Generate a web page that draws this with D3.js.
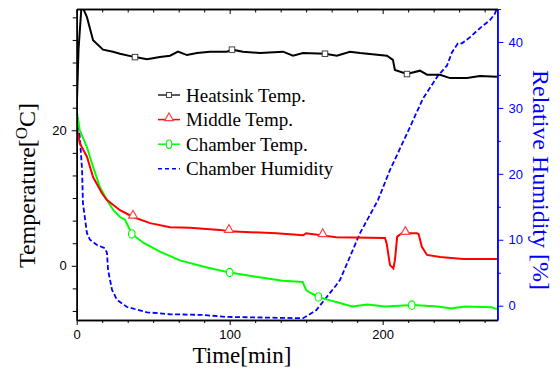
<!DOCTYPE html>
<html><head><meta charset="utf-8">
<script src="https://cdn.jsdelivr.net/npm/d3@7"></script>
<style>body{margin:0;background:#fff}svg{display:block}</style>
</head><body><svg id="c" width="560" height="369"></svg>
<script>
// ---- data ----
const heatsinkTime = [0, 1.2, 3.2, 6.7, 10.7, 17.2, 23.7, 28.3, 38.1, 46, 54.4, 61, 66.2, 72.1, 78.6, 87.1, 98.2, 101.5, 108.7, 119.8, 134.9, 141.4, 147.9, 162.3, 170.1, 178.6, 185.2, 202.8, 206.7, 208, 215.9, 224.4, 229, 237.5, 244, 255.1, 263.6, 274.7];
const heatsinkTemp = [23, 32, 38.5, 36.7, 33.3, 31.9, 31.6, 31.3, 30.8, 30.5, 30.8, 31.0, 31.6, 31.1, 31.4, 31.6, 31.6, 31.9, 31.6, 31.4, 31.6, 31.0, 31.4, 31.3, 31.0, 31.6, 31.4, 31.0, 30.4, 28.9, 28.3, 28.8, 28.2, 28.2, 27.7, 27.7, 28.0, 27.9];

const middleTime = [0, 2, 6.7, 10.7, 16.5, 19.8, 28.3, 36.8, 48, 61, 74, 93.7, 99.5, 130.5, 148, 150, 169.6, 201.5, 202.6, 204.8, 207, 208, 209.5, 212.6, 222.4, 223.5, 225.6, 229, 237.5, 252.6, 274.7];
const middleTemp = [20.5, 18.1, 16.1, 13.1, 10.7, 9.7, 8.2, 7.2, 6.3, 5.7, 5.6, 5.3, 5.1, 4.8, 4.5, 4.8, 4.2, 4.1, 3.3, 0.1, -0.4, 0.8, 4.3, 4.8, 4.8, 4.7, 2.8, 1.6, 1.3, 1.0, 1.0];

const chamberTime = [0, 2, 6.7, 10.7, 15.2, 19.8, 24, 28.3, 31.6, 36, 43.5, 54.4, 67.5, 82.6, 93.7, 100.2, 119.4, 134.6, 147.7, 150, 152, 158, 165.6, 172, 180, 190, 201.5, 220, 236, 245, 253.6, 271, 274.7];
const chamberTemp = [22.8, 20.0, 17.5, 14.6, 11.6, 9.7, 8.2, 7.2, 6.8, 4.7, 3.4, 2.1, 0.8, -0.1, -0.7, -1.0, -1.7, -2.2, -2.4, -3.6, -3.9, -4.6, -5.1, -5.5, -6.0, -5.7, -6.0, -5.8, -6.0, -6.3, -6.0, -6.1, -6.4];

const humidityTime = [0, 1, 2.2, 3.5, 4.1, 6.7, 8.7, 13.3, 18.5, 19.8, 20.5, 23.1, 26.3, 32.9, 46, 61, 82.5, 97.6, 148, 156.5, 169.6, 172.1, 185.2, 196.9, 204.8, 215.9, 226.3, 236.2, 242, 245.3, 249.2, 251.8, 257, 263.6, 270.1, 273.4, 275];
const humidityRH = [29.6, 28, 25.1, 20.6, 15.5, 11.0, 10.0, 9.2, 8.7, 8.0, 5.4, 2.4, 0.9, -0.2, -1.0, -1.3, -1.4, -1.7, -1.9, -0.7, 3.1, 3.9, 11.0, 16.0, 20.6, 26.1, 31.4, 34.9, 36.4, 38.4, 39.8, 39.8, 40.7, 42.1, 43.3, 44.3, 45.3];

const heatsinkMarkers = [38.1, 101.5, 162.3, 215.9];
const middleMarkers = [36.8, 99.5, 160.8, 214.8];
const chamberMarkers = [36, 100, 158, 219];

const xMajor = [0, 100, 200];
const xMinor = [16.667, 33.333, 50, 66.667, 83.333, 116.667, 133.333, 150, 166.667, 183.333, 216.667, 233.333, 250, 266.667];
const yLMajor = [0, 20];
const yLMinor = [-6.667, -3.333, 3.333, 6.667, 10, 13.333, 16.667, 23.333, 26.667, 30, 33.333, 36.667];
const yRMajor = [0, 10, 20, 30, 40];
const yRMinor = [5, 15, 25, 35, 45];

const legendLabels = ["Heatsink Temp.", "Middle Temp.", "Chamber Temp.", "Chamber Humidity"];

// ---- drawing ----
const svg = d3.select("#c");
const L = 76.7, R = 497.4, T = 9, B = 320;
const x = d3.scaleLinear().domain([0, 275]).range([L, R]);
const yL = d3.scaleLinear().domain([-8, 37.9]).range([B, T]);
const yR = d3.scaleLinear().domain([-2.17, 45]).range([B, T]);

const SANS = "'Liberation Sans', Arial, sans-serif";
const SERIF = "'Liberation Serif', 'Times New Roman', serif";

svg.append("defs").append("clipPath").attr("id", "clip")
  .append("rect").attr("x", L).attr("y", T).attr("width", R - L).attr("height", B - T);

function pts(ts, vs) { return ts.map((t, i) => [t, vs[i]]); }
function valAt(ts, vs, t) {
  const i = Math.max(1, d3.bisectRight(ts, t));
  const t0 = ts[i - 1], t1 = ts[Math.min(i, ts.length - 1)];
  const v0 = vs[i - 1], v1 = vs[Math.min(i, ts.length - 1)];
  return t1 === t0 ? v0 : v0 + (v1 - v0) * (t - t0) / (t1 - t0);
}

const g = svg.append("g").attr("clip-path", "url(#clip)");
const lineL = d3.line().x(d => x(d[0])).y(d => yL(d[1]));
const lineR = d3.line().x(d => x(d[0])).y(d => yR(d[1]));

g.append("path").datum(pts(humidityTime, humidityRH)).attr("d", lineR)
  .attr("fill", "none").attr("stroke", "#0000ff").attr("stroke-width", 1.8).attr("stroke-dasharray", "5,2.5");
g.append("path").datum(pts(chamberTime, chamberTemp)).attr("d", lineL)
  .attr("fill", "none").attr("stroke", "#00ff00").attr("stroke-width", 2);
g.append("path").datum(pts(middleTime, middleTemp)).attr("d", lineL)
  .attr("fill", "none").attr("stroke", "#ff0000").attr("stroke-width", 2);
g.append("path").datum(pts(heatsinkTime, heatsinkTemp)).attr("d", lineL)
  .attr("fill", "none").attr("stroke", "#000").attr("stroke-width", 2);

// markers
const sq = (sel) => sel.append("rect").attr("width", 5.5).attr("height", 5.5).attr("fill", "#fff").attr("stroke", "#444").attr("stroke-width", 1);
const tri = d3.symbol().type(d3.symbolTriangle).size(34);
heatsinkMarkers.forEach(t => {
  sq(svg).attr("x", x(t) - 2.75).attr("y", yL(valAt(heatsinkTime, heatsinkTemp, t)) - 2.75);
});
middleMarkers.forEach(t => {
  svg.append("path").attr("d", tri).attr("transform", `translate(${x(t)},${yL(valAt(middleTime, middleTemp, t)) - 1.5})`)
    .attr("fill", "#fff").attr("stroke", "#ff4040").attr("stroke-width", 1.2);
});
chamberMarkers.forEach(t => {
  svg.append("ellipse").attr("cx", x(t)).attr("cy", yL(valAt(chamberTime, chamberTemp, t)))
    .attr("rx", 3.3).attr("ry", 4.2).attr("fill", "#fff").attr("stroke", "#00ff00").attr("stroke-width", 1.2);
});

// axes
function styleAxis(sel, color) {
  sel.selectAll("path").attr("stroke", color).attr("stroke-width", 1.5);
  sel.selectAll("line").attr("stroke", color).attr("stroke-width", 1);
  sel.selectAll("text").attr("fill", color).attr("font-family", SANS).attr("font-size", 13);
}
// bottom
const gb = svg.append("g").attr("transform", `translate(0,${B})`);
gb.call(d3.axisBottom(x).tickValues(xMajor).tickSize(5).tickSizeOuter(0).tickPadding(5).tickFormat(d3.format("d")));
gb.append("g").call(d3.axisBottom(x).tickValues(xMinor).tickSize(3).tickSizeOuter(0).tickFormat(""));
styleAxis(gb, "#000");
// top (inward)
const gt = svg.append("g").attr("transform", `translate(0,${T})`);
gt.call(d3.axisBottom(x).tickValues(xMajor).tickSize(5).tickSizeOuter(0).tickFormat(""));
gt.append("g").call(d3.axisBottom(x).tickValues(xMinor).tickSize(3.5).tickSizeOuter(0).tickFormat(""));
styleAxis(gt, "#000");
// left
const gl = svg.append("g").attr("transform", `translate(${L},0)`);
gl.call(d3.axisLeft(yL).tickValues(yLMajor).tickSize(5).tickSizeOuter(0).tickPadding(5).tickFormat(d3.format("d")));
gl.append("g").call(d3.axisLeft(yL).tickValues(yLMinor).tickSize(4).tickSizeOuter(0).tickFormat(""));
styleAxis(gl, "#000");
// right
const gr = svg.append("g").attr("transform", `translate(${R},0)`);
gr.call(d3.axisRight(yR).tickValues(yRMajor).tickSize(6).tickSizeOuter(0).tickPadding(5).tickFormat(d3.format("d")));
gr.append("g").call(d3.axisRight(yR).tickValues(yRMinor).tickSize(3.5).tickSizeOuter(0).tickFormat(""));
styleAxis(gr, "#0000ff");

// axis titles
svg.append("text").attr("x", 242).attr("y", 363).attr("text-anchor", "middle")
  .attr("font-family", SERIF).attr("font-size", 23).attr("fill", "#000").text("Time[min]");
const lt = svg.append("text").attr("transform", "translate(35,185.5) rotate(-90)").attr("text-anchor", "middle")
  .attr("font-family", SERIF).attr("font-size", 24).attr("fill", "#000");
lt.append("tspan").text("Temperature[");
lt.append("tspan").attr("font-size", 17).attr("dy", -8).text("O");
lt.append("tspan").attr("dy", 8).text("C]");
svg.append("text").attr("transform", "translate(533,180) rotate(90)").attr("text-anchor", "middle")
  .attr("font-family", SERIF).attr("font-size", 24).attr("fill", "#0000ff").text("Relative Humidity [%]");

// legend
const lg = svg.append("g");
const colors = ["#000", "#ff0000", "#00ff00", "#0000ff"];
legendLabels.forEach((lab, i) => {
  const by = 101.5 + i * 24.6;
  const ly = by - 6.5;
  const ln = lg.append("line").attr("x1", 158).attr("x2", 180).attr("y1", ly).attr("y2", ly)
    .attr("stroke", colors[i]).attr("stroke-width", i === 0 ? 1.3 : 1.5);
  if (i === 3) ln.attr("stroke-dasharray", "4,3");
  if (i === 0) sq(lg).attr("x", 169 - 2.5).attr("y", ly - 2.5).attr("width", 5).attr("height", 5);
  if (i === 1) lg.append("path").attr("d", tri).attr("transform", `translate(169,${ly - 1.5})`)
    .attr("fill", "#fff").attr("stroke", "#ff4040").attr("stroke-width", 1.2);
  if (i === 2) lg.append("ellipse").attr("cx", 169).attr("cy", ly).attr("rx", 2.8).attr("ry", 4.2)
    .attr("fill", "#fff").attr("stroke", "#00ff00").attr("stroke-width", 1.2);
  lg.append("text").attr("x", 186).attr("y", by).attr("font-family", SERIF).attr("font-size", 19)
    .attr("fill", "#000").text(lab);
});
</script></body></html>
